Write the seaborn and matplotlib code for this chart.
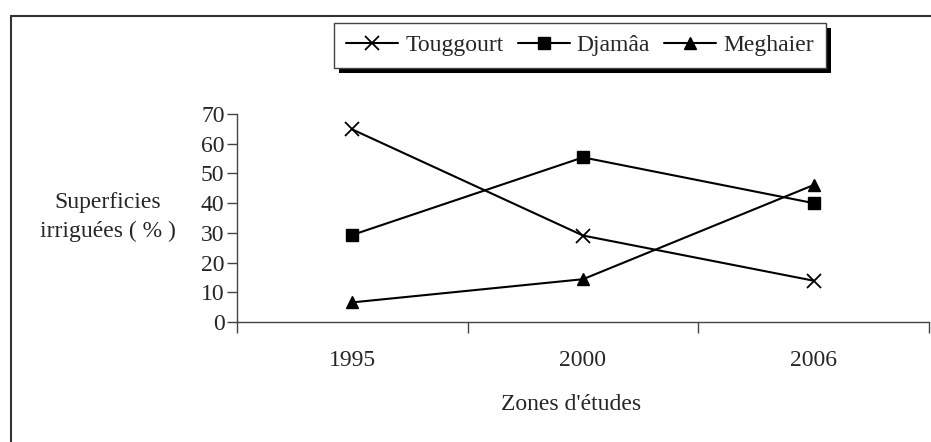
import matplotlib.pyplot as plt
import seaborn as sns
from matplotlib.lines import Line2D
from matplotlib.patches import Rectangle

years = ["1995", "2000", "2006"]
touggourt = [64.8, 29.1, 13.9]
djamaa = [29.3, 55.4, 40.0]
meghaier = [6.6, 14.4, 46.1]
series_names = ["Touggourt", "Djamâa", "Meghaier"]
yticks = [0, 10, 20, 30, 40, 50, 60, 70]

markers = ["x", "s", "^"]
msizes = [10, 8.5, 9]
mwidths = [1.3, 1, 1]

sns.set_style("white")
plt.rcParams["font.family"] = ["Liberation Serif", "DejaVu Serif"]

fig = plt.figure(figsize=(9.31, 4.42), dpi=100)
W, H = 931, 442
ax = fig.add_axes([237 / W, 1 - 322 / H, (929 - 237) / W, (322 - 114) / H])

pos = list(range(len(years)))
for vals, m, ms, mew in zip([touggourt, djamaa, meghaier], markers, msizes, mwidths):
    sns.lineplot(x=pos, y=vals, color="black", marker=m, markersize=ms,
                 markeredgewidth=mew, markerfacecolor="black", markeredgecolor="black",
                 linewidth=1.5, ax=ax)

ax.set_xlim(-0.5, len(years) - 0.5)
ax.set_ylim(0, 70)
ax.set_xticks([i - 0.5 for i in range(len(years) + 1)])
ax.set_xticklabels([])
ax.set_xticks(pos, minor=True)
ax.set_xticklabels(years, minor=True)
ax.set_yticks(yticks)
ax.set_yticklabels([str(v) for v in yticks])
ax.tick_params(axis="x", which="major", bottom=True, direction="out", length=8, width=1,
               color="#444")
ax.tick_params(axis="x", which="minor", bottom=True, length=0, pad=20, labelsize=17)
ax.tick_params(axis="y", left=True, direction="out", length=7, width=1, color="#444",
               labelsize=17, pad=2)
for s in ["top", "right"]:
    ax.spines[s].set_visible(False)
for s in ["left", "bottom"]:
    ax.spines[s].set_color("#444")
    ax.spines[s].set_linewidth(1)

fig.text(108 / W, 1 - 217 / H, "Superficies\nirriguées ( % )", ha="center", va="center",
         fontsize=17, linespacing=1.45)
fig.text(571 / W, 1 - 405 / H, "Zones d'études", ha="center", va="center", fontsize=17)

# outer frame (top and left edges visible)
fig.add_artist(Line2D([11 / W, 1], [1 - 16 / H, 1 - 16 / H], transform=fig.transFigure,
                      color="#333", lw=1.5))
fig.add_artist(Line2D([11 / W, 11 / W], [0, 1 - 16 / H], transform=fig.transFigure,
                      color="#333", lw=1.5))

handles = [Line2D([], [], color="black", lw=1.5, marker=m, markersize=ms,
                  markerfacecolor="black", markeredgewidth=mew)
           for m, ms, mew in zip(markers, msizes, mwidths)]
leg = fig.legend(handles, series_names, loc="center", bbox_to_anchor=(580 / W, 1 - 45.5 / H),
                 ncol=3, fontsize=17, frameon=True, fancybox=False, shadow=False,
                 handlelength=2.2, handletextpad=0.3, columnspacing=0.6,
                 borderpad=0.5, edgecolor="#444", framealpha=1)
leg.get_frame().set_linewidth(1)
leg.set_zorder(5)

fig.canvas.draw()
bb = leg.get_window_extent()
fig.add_artist(Rectangle((bb.x0 + 5, bb.y0 - 5), bb.width, bb.height, transform=None,
                         facecolor="black", edgecolor="none", zorder=4))

fig.savefig("out.png", dpi=100)
